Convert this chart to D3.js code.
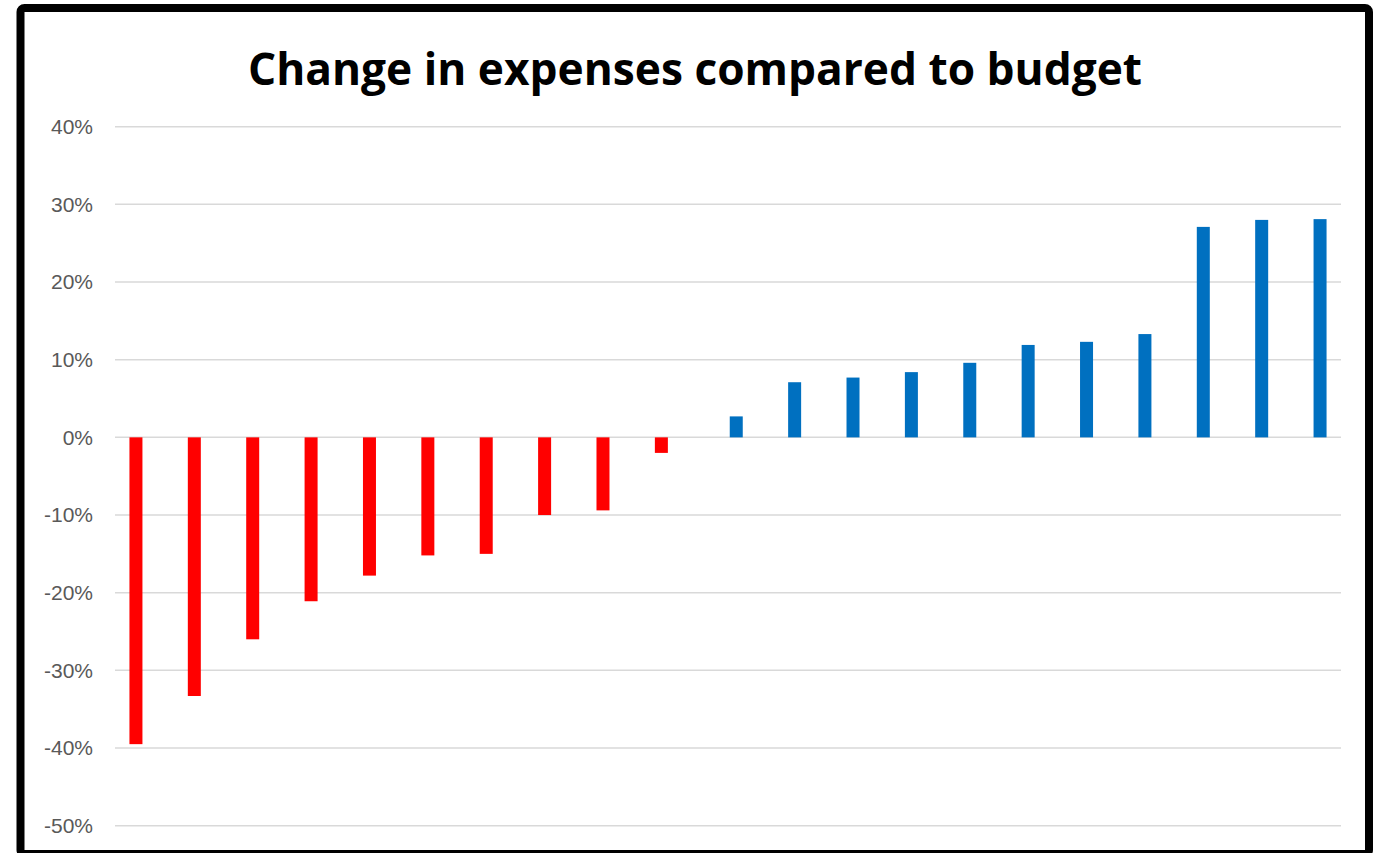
<!DOCTYPE html>
<meta charset="utf-8">
<script src="https://d3js.org/d3.v7.min.js"></script>
<style>
  body { margin: 0; background: #fff; }
</style>
<div id="chart"></div>
<script>
  // categories (no labels are shown on the x axis)
  var categories = ["C1","C2","C3","C4","C5","C6","C7","C8","C9","C10","C11",
                    "C12","C13","C14","C15","C16","C17","C18","C19","C20","C21"];
  // under budget (red), blank where the item is over budget
  var underBudget = [-39.5, -33.3, -26.0, -21.1, -17.8, -15.2, -15.0, -10.0, -9.4, -2.0,
                     null, null, null, null, null, null, null, null, null, null, null];
  // over budget (blue)
  var overBudget = [null, null, null, null, null, null, null, null, null, null,
                    2.7, 7.1, 7.7, 8.4, 9.6, 11.9, 12.3, 13.3, 27.1, 28.0, 28.1];
  var seriesNames = ["under", "over"];
  var yTicks = [40, 30, 20, 10, 0, -10, -20, -30, -40, -50];
  var title = "Change in expenses compared to budget";

  var W = 1380, H = 853;
  var svg = d3.select("#chart").append("svg")
    .attr("width", W).attr("height", H);

  // plot area
  var plotLeft = 115, plotRight = 1341, plotTop = 126.7, plotBottom = 825.7;

  var x = d3.scaleBand().domain(categories).range([plotLeft, plotRight]);
  var x1 = d3.scaleBand().domain(seriesNames).range([-14.75, 14.75]).paddingInner(0.212);
  var y = d3.scaleLinear().domain([-50, 40]).range([plotBottom, plotTop]);

  // gridlines
  svg.append("g").selectAll("line")
    .data(yTicks).enter().append("line")
      .attr("x1", plotLeft).attr("x2", plotRight)
      .attr("y1", d => y(d)).attr("y2", d => y(d))
      .style("stroke", "#d9d9d9").style("stroke-width", 1.5);

  // y axis labels
  var yAxis = d3.axisLeft(y).tickValues(yTicks)
    .tickFormat(d => d + "%").tickSize(0).tickPadding(22);
  var ga = svg.append("g").attr("transform", "translate(" + plotLeft + ",0)").call(yAxis);
  ga.select(".domain").remove();
  ga.selectAll("text")
    .style("font-family", "'Liberation Sans', Arial, sans-serif")
    .style("font-size", "21px")
    .style("fill", "#595959");

  function drawSeries(vals, name, color) {
    var data = categories.map((c, i) => ({c: c, v: vals[i]})).filter(d => d.v != null);
    svg.append("g").selectAll("rect")
      .data(data).enter().append("rect")
        .attr("x", d => x(d.c) + x.bandwidth() / 2 + x1(name))
        .attr("width", x1.bandwidth())
        .attr("y", d => y(Math.max(0, d.v)))
        .attr("height", d => Math.abs(y(d.v) - y(0)))
        .style("fill", color);
  }
  drawSeries(underBudget, "under", "#ff0000");
  drawSeries(overBudget, "over", "#0070c0");

  // title
  var t = svg.append("text")
    .attr("x", 695).attr("y", 85)
    .attr("text-anchor", "middle")
    .style("font-family", "'Open Sans', 'Noto Sans', sans-serif")
    .style("font-weight", "bold")
    .style("font-size", "44px")
    .style("fill", "#000")
    .text(title);
  var tw = t.node().getComputedTextLength();
  t.style("font-size", (44 * 894 / tw) + "px");

  // chart border
  svg.append("rect")
    .attr("x", 20.5).attr("y", 8).attr("width", 1348.5).attr("height", 846)
    .attr("rx", 4)
    .style("fill", "none").style("stroke", "#000").style("stroke-width", 8);
</script>
